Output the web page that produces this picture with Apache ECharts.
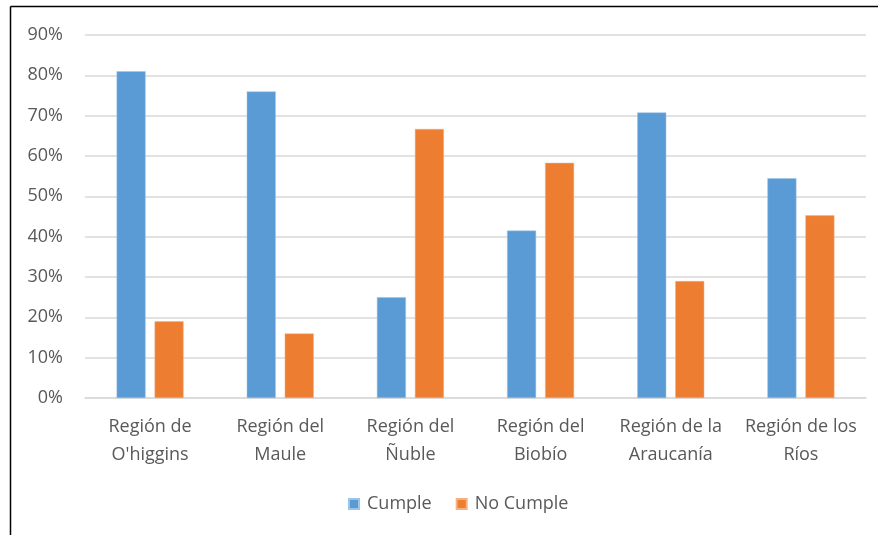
<!DOCTYPE html>
<html><head><meta charset="utf-8">
<script src="https://cdn.jsdelivr.net/npm/echarts@6/dist/echarts.min.js"></script>
<style>html,body{margin:0;padding:0;background:#fff}#c{width:881px;height:535px}</style>
</head><body><div id="c"></div>
<script>
const categories = ["Región de\nO'higgins", "Región del\nMaule", "Región del\nÑuble", "Región del\nBiobío", "Región de la\nAraucanía", "Región de los\nRíos"];
const cumple = [81, 76, 25, 41.5, 70.8, 54.5];
const noCumple = [19, 16, 66.7, 58.3, 29, 45.3];
const seriesNames = ["Cumple", "No Cumple"];

const font = "Open Sans";
const chart = echarts.init(document.getElementById('c'), null, {renderer: 'canvas'});
chart.setOption({
  animation: false,
  backgroundColor: '#fff',
  textStyle: {fontFamily: font},
  graphic: [
    {type: 'line', shape: {x1: 10.5, y1: 6.5, x2: 878, y2: 6.5}, style: {stroke: '#000', lineWidth: 1.5}},
    {type: 'line', shape: {x1: 10.5, y1: 6.5, x2: 10.5, y2: 535}, style: {stroke: '#000', lineWidth: 1.5}}
  ],
  grid: {left: 85, right: 15, top: 35, bottom: 137, containLabel: false},
  legend: {
    bottom: 17, left: 343, itemWidth: 10, itemHeight: 10, itemGap: 24,
    icon: 'rect',
    textStyle: {color: '#595959', fontSize: 18, fontFamily: font, padding: [0, 0, 0, 3]}
  },
  xAxis: {
    type: 'category', data: categories,
    axisLine: {lineStyle: {color: '#D9D9D9', width: 1.5}},
    axisTick: {show: false},
    axisLabel: {color: '#595959', fontSize: 18, lineHeight: 28, margin: 15, fontFamily: font, interval: 0}
  },
  yAxis: {
    type: 'value', min: 0, max: 90, interval: 10,
    axisLine: {show: false}, axisTick: {show: false},
    splitLine: {lineStyle: {color: '#D9D9D9', width: 1.5}},
    axisLabel: {formatter: '{value}%', color: '#595959', fontSize: 18, margin: 22, fontFamily: font}
  },
  series: [
    {name: seriesNames[0], type: 'bar', data: cumple, barWidth: 29, barGap: '31%',
     itemStyle: {color: '#5B9BD5', borderColor: '#9DC3E6', borderWidth: 0.5}},
    {name: seriesNames[1], type: 'bar', data: noCumple, barWidth: 29, barGap: '31%',
     itemStyle: {color: '#ED7D31', borderColor: '#F4B183', borderWidth: 0.5}}
  ]
});
</script></body></html>
